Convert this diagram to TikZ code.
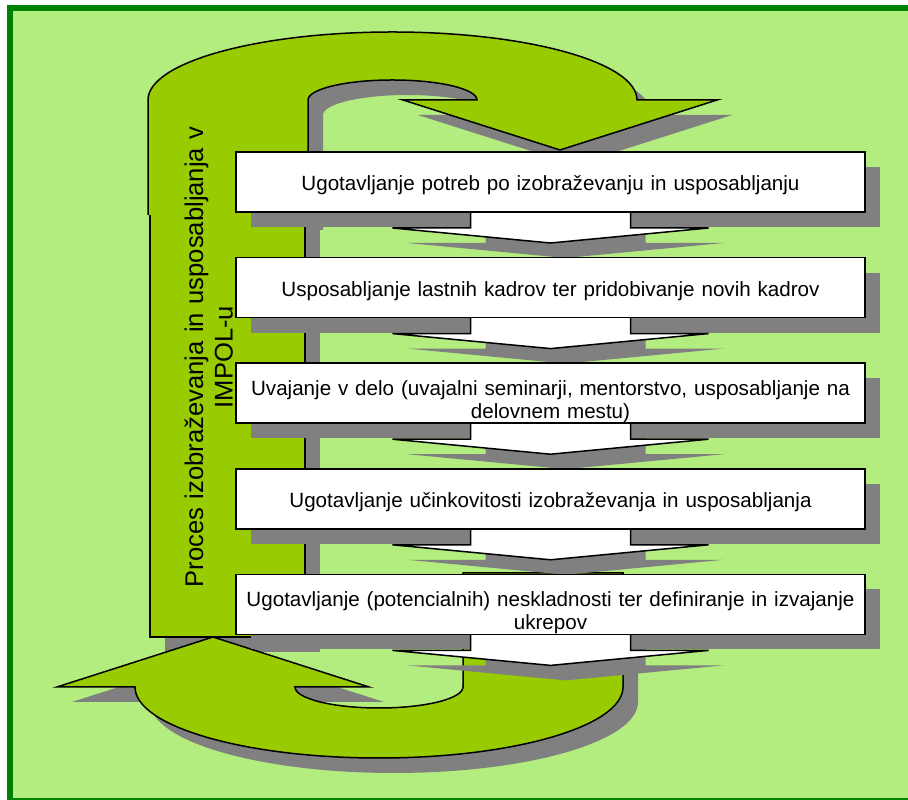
\documentclass[tikz,border=0pt]{standalone}
\usepackage{fontspec}
\setmainfont{Liberation Sans}
\definecolor{bggreen}{RGB}{179,236,127}
\definecolor{framegreen}{RGB}{0,128,0}
\definecolor{loopgreen}{RGB}{153,204,0}
\definecolor{shadowgray}{RGB}{128,128,128}
\pgfdeclarelayer{base}
\pgfdeclarelayer{back}
\pgfdeclarelayer{mid}
\pgfsetlayers{base,back,mid,main}
\newcommand{\toploop}{(148,585) -- (148,700) arc[start angle=180, end angle=0, x radius=244.5, y radius=68] -- (717,700) -- (560,650) -- (403,700) -- (477,700) arc[start angle=0, end angle=180, x radius=84.5, y radius=20] -- (308,585)}
\newcommand{\bottomloop}{(463,227) -- (463,113) arc[start angle=0, end angle=-180, x radius=84, y radius=21] -- (369,113) -- (213,163) -- (57,113) -- (135,113) arc[start angle=180, end angle=360, x radius=244, y radius=71] -- (623,227) -- cycle}
\tikzset{
	stepbox/.style={draw, fill=white, line width=1.5pt, outer sep=0pt, inner sep=0pt, minimum width=629pt, minimum height=60pt, text width=626pt, align=center, font=\fontsize{20.6}{23.5}\selectfont},
	oneline/.style={text height=18pt, text depth=0pt},
	twoline/.style={text height=18pt, text depth=14pt},
	chevron/.style={draw, fill=white, line width=1.5pt},
	dropgray/.style={fill=shadowgray},
	loopshape/.style={draw, fill=loopgreen, line width=1.5pt},
	sidetitle/.style={rotate=90, inner sep=0pt, text width=470pt, align=center, font=\fontsize{25.6}{29.5}\selectfont, text height=19pt, text depth=29.5pt}
}
\begin{document}
\begin{tikzpicture}[x=1pt, y=1pt]
	\useasboundingbox (0,0) rectangle (908,800);
	\node[stepbox, oneline] (b1) at (550.5,618) {Ugotavljanje potreb po izobraževanju in usposabljanju};
	\node[stepbox, oneline] (b2) at (550.5,512.4) {Usposabljanje lastnih kadrov ter pridobivanje novih kadrov};
	\node[stepbox, twoline] (b3) at (550.5,406.8) {Uvajanje v delo (uvajalni seminarji, mentorstvo, usposabljanje na\\delovnem mestu)};
	\node[stepbox, oneline] (b4) at (550.5,301.2) {Ugotavljanje učinkovitosti izobraževanja in usposabljanja};
	\node[stepbox, twoline] (b5) at (550.5,195.6) {Ugotavljanje (potencialnih) neskladnosti ter definiranje in izvajanje\\ukrepov};
	\node[sidetitle] (title) at (208.25,443) {Proces izobraževanja in usposabljanja v\\IMPOL-u};
	\begin{pgfonlayer}{base}
		\fill[bggreen] (10,-0.5) rectangle (911,792);
		\fill[dropgray, xshift=15, yshift=-15] \toploop;
		\fill[dropgray] (165,148) rectangle (320,571);
		\fill[dropgray, xshift=15, yshift=-15] \bottomloop;
		\draw[loopshape] (150,163) rectangle (305,586);
		\draw[loopshape] \bottomloop;
		\draw[loopshape] \toploop;
		\draw[framegreen, line width=5.5pt] (10,-0.5) rectangle (911,792);
	\end{pgfonlayer}
	\begin{pgfonlayer}{back}
		\foreach \i in {1,...,5} {
			\fill[dropgray] ([shift={(15,-15)}]b\i.south west) rectangle ([shift={(15,-15)}]b\i.north east);
			\fill[dropgray] ([shift={(-65,-13)}]b\i.south) -- ++(0,-18) -- ++(-78,0) -- ++(158,-15) -- ++(158,15) -- ++(-78,0) -- ++(0,18);
		}
	\end{pgfonlayer}
	\begin{pgfonlayer}{mid}
		\foreach \i in {1,...,5}
			\draw[chevron] ([shift={(-80,2)}]b\i.south) -- ++(0,-18) -- ++(-78,0) -- ++(158,-15) -- ++(158,15) -- ++(-78,0) -- ++(0,18);
	\end{pgfonlayer}
\end{tikzpicture}
\end{document}
